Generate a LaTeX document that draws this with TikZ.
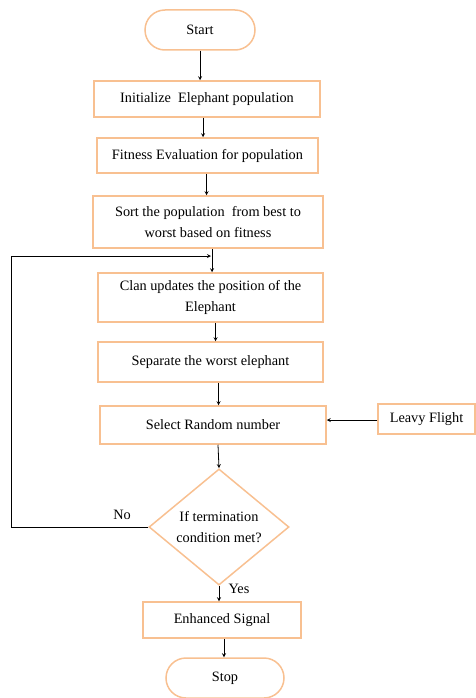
\documentclass[tikz,border=0pt]{standalone}
\usepackage{fontspec}
\setmainfont{Liberation Serif}
\usetikzlibrary{positioning, shapes.geometric, calc}

\definecolor{boxorange}{RGB}{248,192,145}

\begin{document}
\begin{tikzpicture}[
  x=1pt, y=1pt,
  procbox/.style={rectangle, draw=boxorange, line width=1.5pt, minimum width=#1,
    inner sep=0pt, align=center, font=\fontsize{14.3}{20.5}\selectfont},
  procbox/.default={226pt},
  termbox/.style={rectangle, rounded corners=20pt, draw=boxorange, line width=1.5pt,
    minimum width=110pt, minimum height=40pt, font=\fontsize{14.3}{20.5}\selectfont},
  decbox/.style={diamond, draw=boxorange, line width=1.5pt, minimum width=140pt,
    minimum height=113pt, inner sep=0pt, align=center, font=\fontsize{14.3}{20.5}\selectfont},
  flow/.style={->, >=stealth, line width=0.8pt},
  lbl/.style={font=\fontsize{14.3}{16}\selectfont}
]
  \useasboundingbox (0,0) rectangle (475,-698);
  % terminals
  \node[termbox] (start) at (200,-30) {Start};
  \node[termbox, minimum width=118pt] (stop) at (225,-678) {Stop};
  % process boxes
  \node[procbox, minimum height=36pt] (init) at (207,-99) {Initialize\ \ Elephant population};
  \node[procbox=221pt, minimum height=35pt] (fit) at (207.5,-155.5) {Fitness Evaluation for population};
  \node[procbox=230pt, minimum height=52pt] (sort) at (208,-222) {Sort the population\ \ from best to\\worst based on fitness};
  \node[procbox=225pt, minimum height=49pt] (clan) at (210.5,-297.5) {Clan updates the position of the\\Elephant};
  \node[procbox=225pt, minimum height=40pt] (sep) at (210.5,-362) {Separate the worst elephant};
  \node[procbox, minimum height=38pt] (sel) at (213,-425) {Select Random number};
  \node[procbox=97pt, minimum height=30pt] (levy) at (426.5,-419) {Leavy Flight};
  \node[procbox=158pt, minimum height=36pt] (enh) at (222,-620) {Enhanced Signal};
  % decision
  \node[decbox] (cond) at (219,-527) {If termination\\condition met?};
  % loop corner points
  \coordinate (loopa) at (11,-527);
  \coordinate (loopb) at (11,-256);
  \coordinate (loopc) at (211,-256);
  % connectors
  \draw[flow] (start.south) -- (start.south |- init.north);
  \draw[flow] ([xshift=-4pt]init.south) -- ([xshift=-4pt]init.south |- fit.north);
  \draw[flow] ([xshift=-1pt]fit.south) -- ([xshift=-1pt]fit.south |- sort.north);
  \draw[flow] ([xshift=4pt]sort.south) -- ([xshift=4pt]sort.south |- clan.north);
  \draw[flow] ([xshift=5pt]clan.south) -- ([xshift=5pt]clan.south |- sep.north);
  \draw[flow] ([xshift=8pt]sep.south) -- ([xshift=8pt]sep.south |- sel.north);
  \draw[flow] ([xshift=5pt]sel.south) -- (cond.north);
  \draw[flow] (levy.west |- 0,-420) -- (sel.east |- 0,-420);
  \draw[flow] (cond.south) -- (cond.south |- enh.north);
  \draw[flow] ([xshift=2pt]enh.south) -- ([xshift=2pt]enh.south |- stop.north);
  \draw[flow] (cond.west) -- (loopa) -- (loopb) -- (loopc);
  % labels
  \node[lbl] (nolbl) at (122,-515) {No};
  \node[lbl] (yeslbl) at (239,-589) {Yes};
\end{tikzpicture}
\end{document}
